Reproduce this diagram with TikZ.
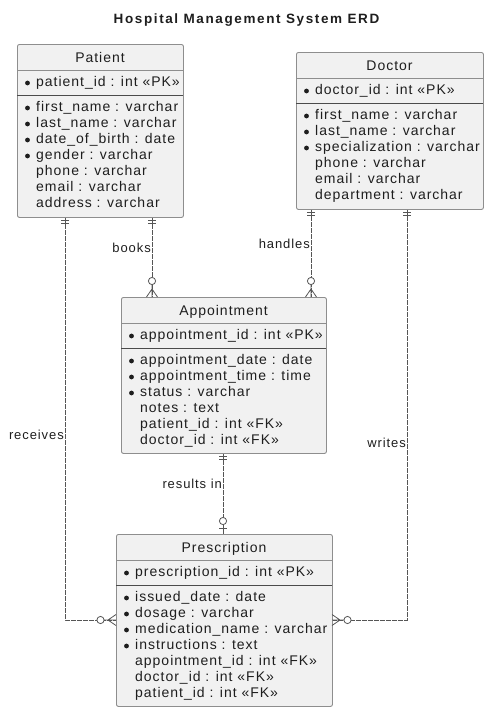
\documentclass[tikz,border=0pt]{standalone}
\usepackage{fontspec}
\setmainfont{Liberation Sans}[LetterSpace=7]
\newfontfamily\titlefont{Liberation Sans}[LetterSpace=12]
\definecolor{entfill}{HTML}{F1F1F1}
\definecolor{entline}{HTML}{8E8E8E}
\definecolor{relline}{HTML}{555555}
\definecolor{txt}{HTML}{1E1E1E}

\begin{document}
\begin{tikzpicture}[x=1pt, y=-1pt,
    entity/.style={draw=entline, fill=entfill, line width=0.9pt, rounded corners=2pt, anchor=north west, inner sep=0pt},
    sepline/.style={draw=entline, line width=0.9pt},
    pkline/.style={draw=txt!80, line width=1pt},
    head/.style={anchor=base, inner sep=0pt, text=txt, font=\fontsize{14}{16}\selectfont},
    attr/.style={anchor=base west, inner sep=0pt, text=txt, font=\fontsize{14}{16}\selectfont},
    rel/.style={draw=relline, line width=0.8pt, dash pattern=on 5pt off 1pt},
    endmark/.style={draw=relline, line width=0.8pt},
    endring/.style={draw=relline, fill=white, line width=0.8pt},
    lbl/.style={anchor=east, inner sep=1pt, text=txt, font=\fontsize{13}{15}\selectfont}]
  \useasboundingbox (0,0) rectangle (498,721);

  % title
  \path (246.5,23) node[anchor=base, text=txt, font=\titlefont\bfseries\fontsize{13.5}{15}\selectfont] (title) {Hospital Management System ERD};

  % Patient
  \node[entity, minimum width=166, minimum height=173] (patient) at (17,44) {};
  \draw[sepline] (patient.north west) ++(0,26) -- +(166,0);
  \draw[pkline] (patient.north west) ++(0,51) -- +(166,0);
  \path (100,62) node[head] (patient-name) {Patient};
  \fill[txt] (27.5,83) circle (2.4);
  \path (36,86.5) node[attr] (patient-pk) {patient\_id : int «PK»};
  \fill[txt] (27.5,108) circle (2.4);
  \path (36,111.5) node[attr] (patient-a1) {first\_name : varchar};
  \fill[txt] (27.5,124) circle (2.4);
  \path (36,127.5) node[attr] (patient-a2) {last\_name : varchar};
  \fill[txt] (27.5,140) circle (2.4);
  \path (36,143.5) node[attr] (patient-a3) {date\_of\_birth : date};
  \fill[txt] (27.5,156) circle (2.4);
  \path (36,159.5) node[attr] (patient-a4) {gender : varchar};
  \path (36,175.5) node[attr] (patient-a5) {phone : varchar};
  \path (36,191.5) node[attr] (patient-a6) {email : varchar};
  \path (36,207.5) node[attr] (patient-a7) {address : varchar};

  % Doctor
  \node[entity, minimum width=187, minimum height=157] (doctor) at (296,52) {};
  \draw[sepline] (doctor.north west) ++(0,26) -- +(187,0);
  \draw[pkline] (doctor.north west) ++(0,51) -- +(187,0);
  \path (389.5,70) node[head] (doctor-name) {Doctor};
  \fill[txt] (306.5,91) circle (2.4);
  \path (315,94.5) node[attr] (doctor-pk) {doctor\_id : int «PK»};
  \fill[txt] (306.5,116) circle (2.4);
  \path (315,119.5) node[attr] (doctor-a1) {first\_name : varchar};
  \fill[txt] (306.5,132) circle (2.4);
  \path (315,135.5) node[attr] (doctor-a2) {last\_name : varchar};
  \fill[txt] (306.5,148) circle (2.4);
  \path (315,151.5) node[attr] (doctor-a3) {specialization : varchar};
  \path (315,167.5) node[attr] (doctor-a4) {phone : varchar};
  \path (315,183.5) node[attr] (doctor-a5) {email : varchar};
  \path (315,199.5) node[attr] (doctor-a6) {department : varchar};

  % Appointment
  \node[entity, minimum width=205, minimum height=156] (appt) at (121,297) {};
  \draw[sepline] (appt.north west) ++(0,26) -- +(205,0);
  \draw[pkline] (appt.north west) ++(0,51) -- +(205,0);
  \path (223.5,315) node[head] (appt-name) {Appointment};
  \fill[txt] (131.5,336) circle (2.4);
  \path (140,339.5) node[attr] (appt-pk) {appointment\_id : int «PK»};
  \fill[txt] (131.5,361) circle (2.4);
  \path (140,364.5) node[attr] (appt-a1) {appointment\_date : date};
  \fill[txt] (131.5,377) circle (2.4);
  \path (140,380.5) node[attr] (appt-a2) {appointment\_time : time};
  \fill[txt] (131.5,393) circle (2.4);
  \path (140,396.5) node[attr] (appt-a3) {status : varchar};
  \path (140,412.5) node[attr] (appt-a4) {notes : text};
  \path (140,428.5) node[attr] (appt-a5) {patient\_id : int «FK»};
  \path (140,444.5) node[attr] (appt-a6) {doctor\_id : int «FK»};

  % Prescription
  \node[entity, minimum width=216, minimum height=172] (presc) at (116,534) {};
  \draw[sepline] (presc.north west) ++(0,26) -- +(216,0);
  \draw[pkline] (presc.north west) ++(0,51) -- +(216,0);
  \path (224,552) node[head] (presc-name) {Prescription};
  \fill[txt] (126.5,573) circle (2.4);
  \path (135,576.5) node[attr] (presc-pk) {prescription\_id : int «PK»};
  \fill[txt] (126.5,598) circle (2.4);
  \path (135,601.5) node[attr] (presc-a1) {issued\_date : date};
  \fill[txt] (126.5,614) circle (2.4);
  \path (135,617.5) node[attr] (presc-a2) {dosage : varchar};
  \fill[txt] (126.5,630) circle (2.4);
  \path (135,633.5) node[attr] (presc-a3) {medication\_name : varchar};
  \fill[txt] (126.5,646) circle (2.4);
  \path (135,649.5) node[attr] (presc-a4) {instructions : text};
  \path (135,665.5) node[attr] (presc-a5) {appointment\_id : int «FK»};
  \path (135,681.5) node[attr] (presc-a6) {doctor\_id : int «FK»};
  \path (135,697.5) node[attr] (presc-a7) {patient\_id : int «FK»};

  % books
  \draw[rel] ([xshift=135pt]patient.south west) -- ([xshift=31pt]appt.north west);
  \draw[endmark] (148,220.5) -- +(8,0) (148,223.5) -- +(8,0);
  \draw[endmark] (146.5,297) -- (152,289) -- (157.5,297) (152,285) -- (152,297);
  \draw[endring] (152,281) circle (3.6);
  \path (152,248) node[lbl] (books) {books};

  % handles
  \draw[rel] ([xshift=15pt]doctor.south west) -- ([xshift=190pt]appt.north west);
  \draw[endmark] (307,212.5) -- +(8,0) (307,215.5) -- +(8,0);
  \draw[endmark] (305.5,297) -- (311,289) -- (316.5,297) (311,285) -- (311,297);
  \draw[endring] (311,281) circle (3.6);
  \path (311,244) node[lbl] (handles) {handles};

  % receives
  \draw[rel] ([xshift=48pt]patient.south west) |- ([yshift=-86pt]presc.north west);
  \draw[endmark] (61,220.5) -- +(8,0) (61,223.5) -- +(8,0);
  \draw[endmark] (116,614.5) -- (108,620) -- (116,625.5) (104,620) -- (116,620);
  \draw[endring] (100.5,620) circle (3.6);
  \path (65,435) node[lbl] (receives) {receives};

  % writes
  \draw[rel] ([xshift=111pt]doctor.south west) |- ([yshift=-86pt]presc.north east);
  \draw[endmark] (403,212.5) -- +(8,0) (403,215.5) -- +(8,0);
  \draw[endmark] (332,614.5) -- (340,620) -- (332,625.5) (332,620) -- (344,620);
  \draw[endring] (347.5,620) circle (3.6);
  \path (407,443) node[lbl] (writes) {writes};

  % results in
  \draw[rel] ([xshift=102pt]appt.south west) -- ([xshift=107pt]presc.north west);
  \draw[endmark] (219,456.5) -- +(8,0) (219,459.5) -- +(8,0);
  \draw[endmark] (219,528) -- +(8,0) (223,524.5) -- (223,534);
  \draw[endring] (223,521) circle (3.6);
  \path (223,484) node[lbl] (results) {results in};
\end{tikzpicture}
\end{document}
